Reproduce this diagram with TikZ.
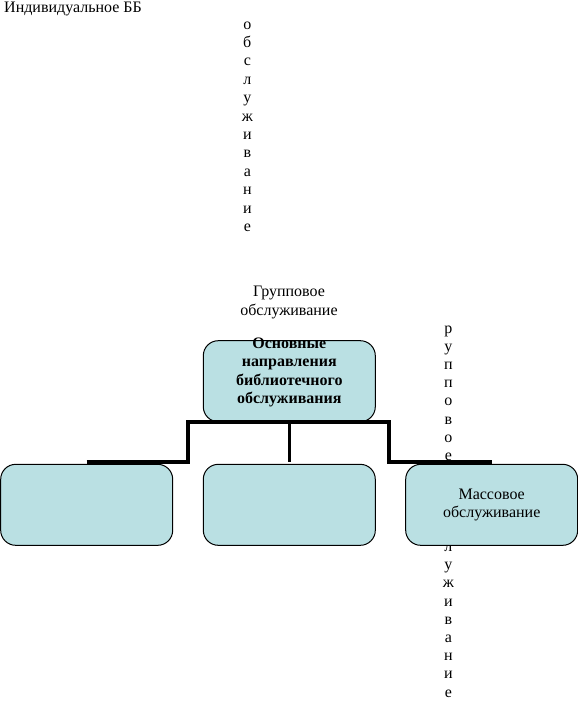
\documentclass[tikz,border=0pt]{standalone}
\usepackage{fontspec}
\setmainfont{Liberation Serif}
\usepackage{tikz}
\usetikzlibrary{
	arrows.meta,
	positioning,
	calc
}
\usepackage{xcolor}
\definecolor{boxfill}{RGB}{186,224,227}

\begin{document}
\begin{tikzpicture}[x=1pt,y=-1pt,
	box/.style={draw=black,line width=1pt,fill=boxfill,rounded corners=15pt,minimum width=172pt,minimum height=81pt,inner sep=0pt,align=center,font=\fontsize{16}{18.4}\selectfont},
	conn/.style={line width=3.6pt},
	lbl/.style={inner sep=0pt,align=center,font=\fontsize{16}{18.4}\selectfont},
	vletter/.style={inner sep=0pt,anchor=base,font=\fontsize{16}{18.4}\selectfont}]
		
		\useasboundingbox (0,0) rectangle (578,702);
		
		% top left label
		\node[lbl,anchor=base west] (indiv) at (4,12.7) {Индивидуальное ББ};
		
		% vertical word, left
		\foreach \ch [count=\i from 0] in {о,б,с,л,у,ж,и,в,а,н,и,е}
		\node[vletter] (obsl\i) at (247.3,29+18.4*\i) {\ch};
		
		% vertical word, right (only the visible letters)
		\foreach \ch/\i in {р/0,у/1,п/2,п/3,о/4,в/5,о/6,е/7,л/12,у/13,ж/14,и/15,в/16,а/17,н/18,и/19,е/20}
		\node[vletter] (grp\i) at (448.3,333+18.2*\i) {\ch};
		
		\node[lbl,anchor=north] (grouplbl) at (289,286) {Групповое\\обслуживание};
		
		% boxes
		\node[box] (main) at (289.3,381.2) {};
		\node[lbl,anchor=north,font=\fontsize{16}{18.4}\selectfont\bfseries] (mainlbl) at ([yshift=2.4pt]main.north) {Основные\\направления\\библиотечного\\обслуживания};
		
		\node[box,below=41.6pt of main] (group) {};
		\node[box,left=29.6pt of group] (individ) {};
		\node[box,right=29.4pt of group] (mass) {Массовое\\обслуживание};
		
		% connectors
		\coordinate (jl) at (188,422);
		\coordinate (jr) at (389,422);
		\draw[conn] ([yshift=1.8pt]individ.north) -| (jl) -- (jr) |- ([yshift=1.8pt]mass.north);
		\draw[conn] (main.south) -- ([yshift=1.8pt]group.north);
		
	\end{tikzpicture}
\end{document}
